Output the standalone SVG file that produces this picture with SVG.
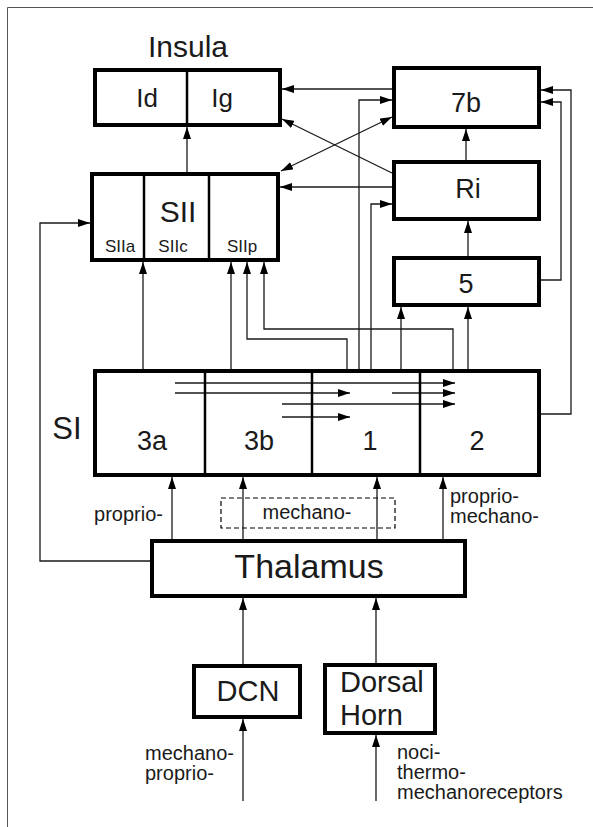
<svg xmlns="http://www.w3.org/2000/svg" width="593" height="827" viewBox="0 0 593 827">
<style>
.box{fill:#fff;stroke:#000;stroke-width:4}
.div{stroke:#000;stroke-width:2.5}
.c{fill:none;stroke:#1a1a1a;stroke-width:1.3}
.t{font-family:"Liberation Sans",Arial,sans-serif;fill:#1a1a1a}
.m{text-anchor:middle}
.s{font-size:20px}
</style>
<defs>
<marker id="ah" viewBox="0 0 12 8" refX="12" refY="4" markerWidth="12" markerHeight="8" orient="auto-start-reverse" markerUnits="userSpaceOnUse"><path d="M0,0 L12,4 L0,8 z" fill="#000"/></marker>
</defs>
<rect width="593" height="827" fill="#fff"/>
<path d="M7.5,827 V7.5 H593" fill="none" stroke="#555" stroke-width="1"/>

<g id="connectors" class="c" marker-end="url(#ah)">
<path d="M187,172 V127"/>
<path d="M392,89 H282"/>
<path d="M359,369 V100 H392"/>
<path d="M371,369 V204 H392"/>
<path d="M392,173 L282,119"/>
<path d="M281,171 L392,117" marker-start="url(#ah)"/>
<path d="M392,187 H280"/>
<path d="M466,160 V129"/>
<path d="M468,256 V221"/>
<path d="M541,414 H571 V90 H541"/>
<path d="M541,280 H561 V102 H541"/>
<path d="M401,369 V307"/>
<path d="M468,369 V307"/>
<path d="M143,369 V262"/>
<path d="M231,369 V262"/>
<path d="M347,369 V339 H247 V262"/>
<path d="M453,369 V329 H264 V262"/>
<path d="M150,561 H40 V223 H90"/>
<path d="M175,383 H455"/>
<path d="M175,393 H350"/>
<path d="M282,404 H455"/>
<path d="M282,417 H350"/>
<path d="M392,393 H455"/>
<path d="M172,539 V477"/>
<path d="M243,539 V477"/>
<path d="M377,539 V477"/>
<path d="M443,539 V477"/>
<path d="M243,664 V598"/>
<path d="M376,663 V598"/>
<path d="M243,801 V719"/>
<path d="M376,801 V735"/>
</g>

<g id="insula">
<text class="t m" x="188" y="57" font-size="30">Insula</text>
<rect class="box" x="95" y="70" width="185" height="55"/>
<line class="div" x1="187" y1="70" x2="187" y2="125"/>
<text class="t m" x="147" y="107" font-size="26">Id</text>
<text class="t m" x="222" y="107" font-size="26">Ig</text>
</g>

<g id="n7b">
<rect class="box" x="394" y="68" width="145" height="59"/>
<text class="t m" x="466" y="112" font-size="27">7b</text>
</g>

<g id="ri">
<rect class="box" x="394" y="162" width="145" height="57"/>
<text class="t m" x="468" y="198" font-size="27">Ri</text>
</g>

<g id="n5">
<rect class="box" x="394" y="258" width="145" height="47"/>
<text class="t m" x="466" y="293" font-size="27">5</text>
</g>

<g id="sii">
<rect class="box" x="92" y="174" width="186" height="86"/>
<line class="div" x1="144" y1="174" x2="144" y2="260" stroke-width="2"/>
<line class="div" x1="209" y1="174" x2="209" y2="260" stroke-width="2"/>
<text class="t m" x="178" y="222" font-size="30">SII</text>
<text class="t m" x="120" y="252" font-size="17">SIIa</text>
<text class="t m" x="173" y="252" font-size="17">SIIc</text>
<text class="t m" x="242" y="252" font-size="17">SIIp</text>
</g>

<g id="si">
<text class="t m" x="67" y="439" font-size="31">SI</text>
<rect class="box" x="95" y="371" width="444" height="104" style="fill:none"/>
<line class="div" x1="205" y1="371" x2="205" y2="475" stroke-width="3"/>
<line class="div" x1="312" y1="371" x2="312" y2="475" stroke-width="3"/>
<line class="div" x1="420" y1="371" x2="420" y2="475" stroke-width="3"/>
<text class="t m" x="152" y="450" font-size="27">3a</text>
<text class="t m" x="259" y="450" font-size="27">3b</text>
<text class="t m" x="370" y="450" font-size="27">1</text>
<text class="t m" x="477" y="450" font-size="27">2</text>
</g>

<g id="labels">
<text class="t s" x="163" y="521" text-anchor="end">proprio-</text>
<rect x="221" y="498" width="174" height="30" fill="none" stroke="#000" stroke-width="1.2" stroke-dasharray="5,3"/>
<text class="t s m" x="307" y="519">mechano-</text>
<text class="t s" x="450" y="503">proprio-</text>
<text class="t s" x="450" y="523">mechano-</text>
</g>

<g id="thalamus">
<rect class="box" x="152" y="541" width="313" height="55"/>
<text class="t m" x="309" y="578" font-size="34">Thalamus</text>
</g>

<g id="dcn">
<rect class="box" x="194" y="666" width="106" height="51"/>
<text class="t m" x="248" y="701" font-size="29">DCN</text>
</g>

<g id="dorsal-horn">
<rect class="box" x="325" y="665" width="110" height="68"/>
<text class="t" x="340" y="692" font-size="29">Dorsal</text>
<text class="t" x="340" y="725" font-size="29">Horn</text>
</g>

<g id="inputs">
<text class="t s" x="145" y="760">mechano-</text>
<text class="t s" x="145" y="780">proprio-</text>
<text class="t s" x="397" y="759">noci-</text>
<text class="t s" x="397" y="779">thermo-</text>
<text class="t s" x="397" y="799">mechanoreceptors</text>
</g>
</svg>
